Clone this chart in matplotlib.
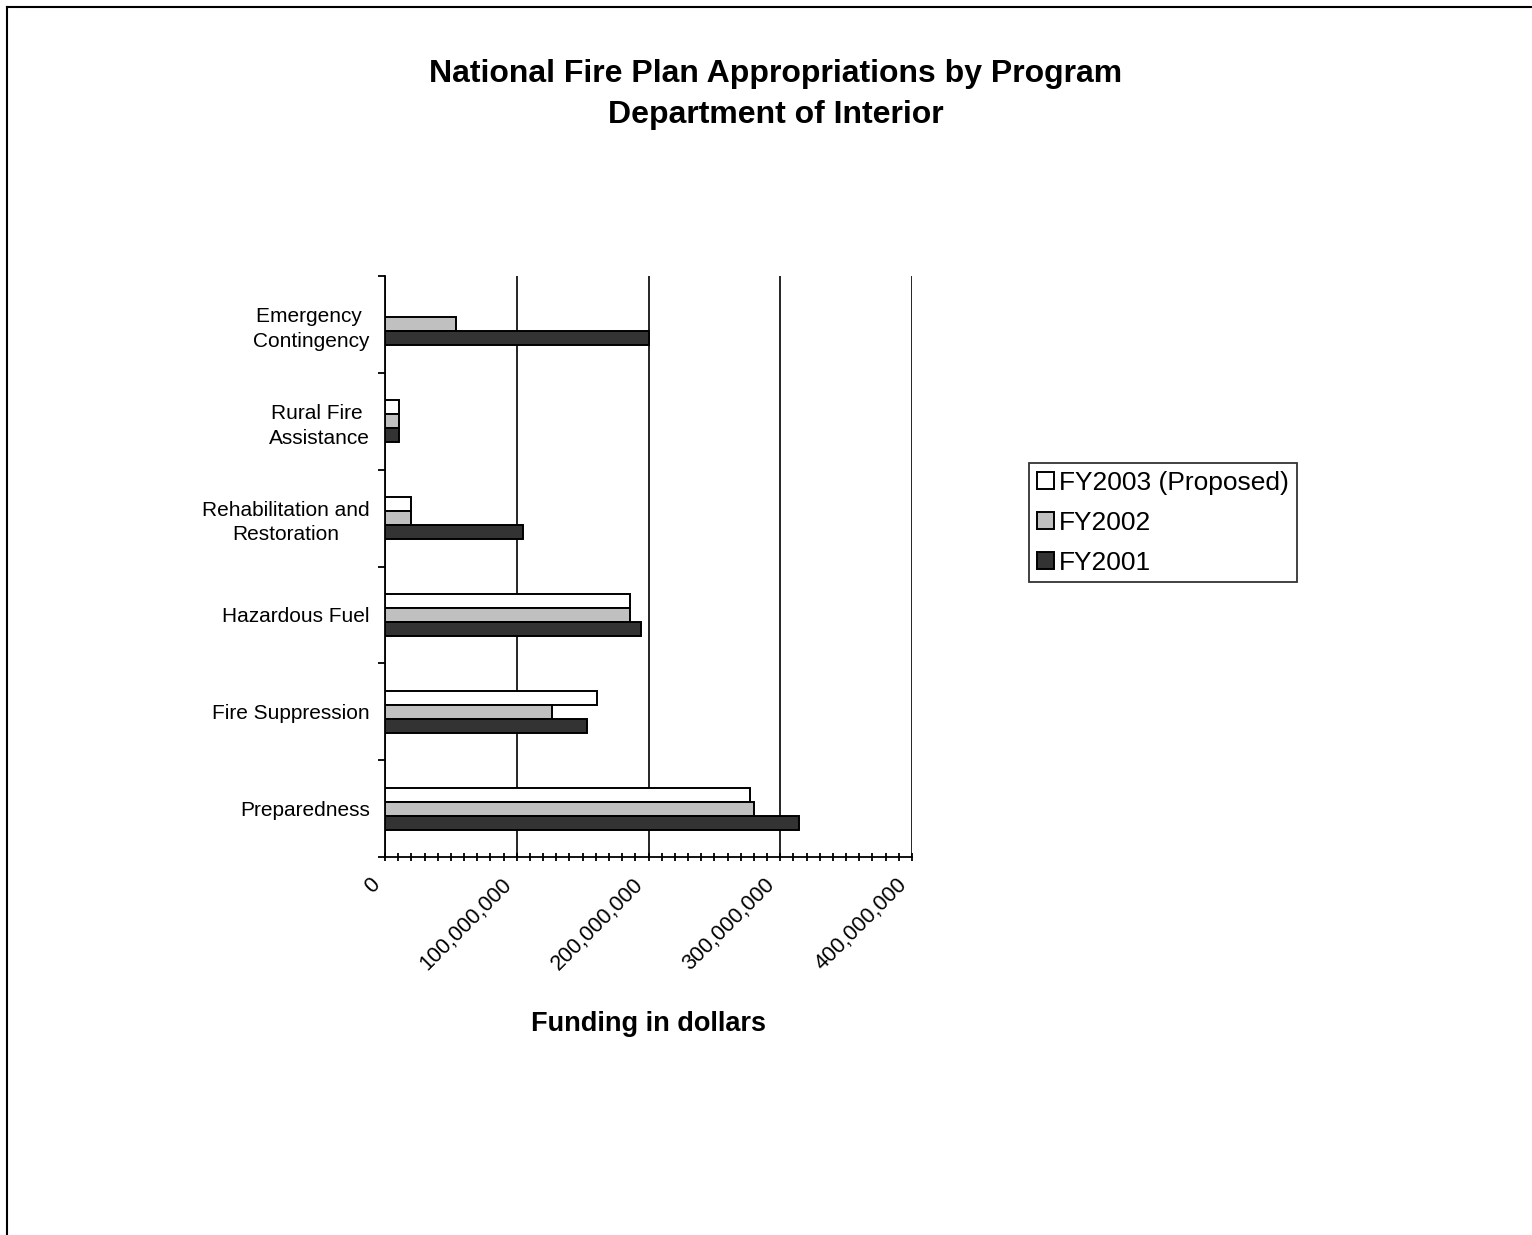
import matplotlib
matplotlib.use("Agg")
import matplotlib.pyplot as plt
from matplotlib.ticker import MultipleLocator, FuncFormatter
from matplotlib.lines import Line2D
import matplotlib.transforms as mtransforms
import numpy as np

plt.rcParams['font.family'] = ['Liberation Sans', 'DejaVu Sans']

#----- data (dollars) -----
programs = ["Preparedness", "Fire Suppression", "Hazardous Fuel",
            "Rehabilitation and\nRestoration", "Rural Fire \nAssistance",
            "Emergency \nContingency"]
fy2003 = [277e6, 161e6, 186e6, 20e6, 11e6, 0]
fy2002 = [280e6, 127e6, 186e6, 20e6, 11e6, 54e6]
fy2001 = [314e6, 153e6, 194e6, 105e6, 11e6, 200e6]
series_names = ["FY2003 (Proposed)", "FY2002", "FY2001"]
series_colors = ["#FFFFFF", "#C0C0C0", "#333333"]

W, H = 1532, 1235
fig = plt.figure(figsize=(W / 100, H / 100), dpi=100)

ax = fig.add_axes([385 / W, 1 - 857 / H, (912 - 385) / W, (857 - 276) / H])

y = np.arange(len(programs))
bh = 0.145
for vals, off, col, name in zip([fy2003, fy2002, fy2001], [bh, 0, -bh],
                                series_colors, series_names):
    ax.barh(y + off, vals, height=bh, color=col, edgecolor="black",
            linewidth=1.4, label=name, zorder=3)

ax.set_xlim(0, 400e6)
ax.set_ylim(-0.5, len(programs) - 0.5)

ax.xaxis.set_major_locator(MultipleLocator(100e6))
ax.xaxis.set_minor_locator(MultipleLocator(10e6))
ax.xaxis.set_major_formatter(FuncFormatter(lambda v, p: f"{int(v):,}"))
ax.grid(axis="x", which="major", color="black", linewidth=1.2, zorder=1)

# category boundaries get the tick marks, centres get the labels
ax.set_yticks(np.arange(-0.5, len(programs), 1.0))
ax.set_yticklabels([])
ax.set_yticks(y, minor=True)
ax.set_yticklabels(programs, minor=True, fontsize=15, ha="right",
                   multialignment="center", linespacing=1.35)
ax.tick_params(axis="y", which="minor", length=0, pad=11)
ax.tick_params(axis="y", which="major", direction="out", length=5, width=1.3)

ax.tick_params(axis="x", which="both", direction="inout", length=6, width=1.3)
ax.tick_params(axis="x", which="major", labelsize=15.5, pad=5)
shift = mtransforms.ScaledTranslation(-16 / 100, -6 / 100, fig.dpi_scale_trans)
for lab in ax.get_xticklabels():
    lab.set_rotation(45)
    lab.set_ha("right")
    lab.set_va("top")
    lab.set_rotation_mode("anchor")
    lab.set_transform(lab.get_transform() + shift)

for s in ["top", "right"]:
    ax.spines[s].set_visible(False)
for s in ["left", "bottom"]:
    ax.spines[s].set_linewidth(1.3)

ax.set_xlabel("Funding in dollars", fontsize=19.5, fontweight="bold")
ax.xaxis.set_label_coords(0.5, -0.265)

fig.text(776 / W, 1 - 74 / H, "National Fire Plan Appropriations by Program",
         ha="center", va="center", fontsize=23, fontweight="bold")
fig.text(776 / W, 1 - 115 / H, "Department of Interior",
         ha="center", va="center", fontsize=23, fontweight="bold")

leg = fig.legend(loc="upper left", bbox_to_anchor=(1029 / W, 1 - 463 / H),
                 fontsize=19, frameon=True, fancybox=False, borderaxespad=0,
                 handlelength=0.65, handleheight=0.65, handletextpad=0.2,
                 labelspacing=0.6, borderpad=0.3)
leg.get_frame().set_edgecolor("black")
leg.get_frame().set_linewidth(1.3)

# page border (top and left only visible)
fig.add_artist(Line2D([7 / W, 1], [1 - 7 / H, 1 - 7 / H], color="black", linewidth=1.5))
fig.add_artist(Line2D([7 / W, 7 / W], [0, 1 - 7 / H], color="black", linewidth=1.5))

fig.savefig("out.png", dpi=100, facecolor="white")
